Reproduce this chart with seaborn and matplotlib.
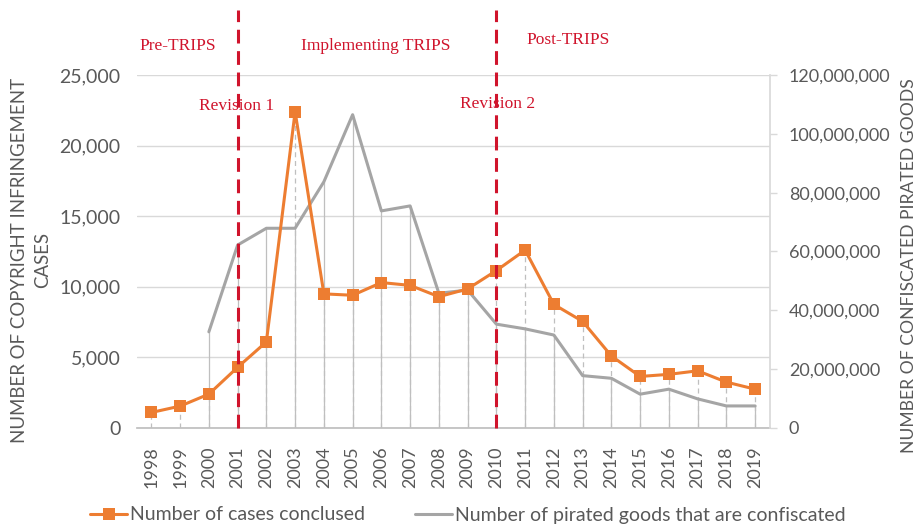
import matplotlib.pyplot as plt
import matplotlib.ticker as mticker
import seaborn as sns
import pandas as pd

# values
years = list(range(1998, 2020))
cases = [1100, 1550, 2400, 4300, 6100, 22400, 9500, 9400, 10300, 10100, 9300,
         9850, 11150, 12600, 8750, 7550, 5100, 3650, 3800, 4050, 3250, 2750]
goods_years = list(range(2000, 2020))
goods = [32.7e6, 62.2e6, 67.9e6, 67.9e6, 83.7e6, 106.5e6, 73.8e6, 75.5e6, 45.8e6, 46.9e6,
         35.3e6, 33.7e6, 31.6e6, 17.8e6, 16.9e6, 11.5e6, 13.2e6, 9.9e6, 7.5e6, 7.5e6]
revisions = [2001, 2010]
phases = ["Pre-TRIPS", "Implementing TRIPS", "Post-TRIPS"]

df_cases = pd.DataFrame({"year": years, "cases": cases})
df_goods = pd.DataFrame({"year": goods_years, "goods": goods})

ORANGE = "#ED7D31"
GREY = "#A5A5A5"
RED = "#D0142C"
TXT = "#595959"

sns.set_theme(style="white")
plt.rcParams["font.family"] = ["Lato", "DejaVu Sans"]

fig = plt.figure(figsize=(9.24, 5.26), dpi=100)
ax = fig.add_axes([137 / 924, 1 - 428 / 526, (769.5 - 137) / 924, (428 - 75) / 526])
ax2 = ax.twinx()
ax3 = ax.twinx()

# drop lines
ax.vlines(df_cases["year"], 0, df_cases["cases"], colors="#BFBFBF", linestyles=(0, (4, 3)), lw=0.9, zorder=1)
ax2.vlines(df_goods["year"], 0, df_goods["goods"], colors="#BFBFBF", lw=0.9, zorder=1)

sns.lineplot(data=df_goods, x="year", y="goods", ax=ax2, color=GREY, lw=2.2, zorder=3)
sns.lineplot(data=df_cases, x="year", y="cases", ax=ax3, color=ORANGE, lw=2.2, marker="s",
             markersize=8.5, markeredgewidth=0, zorder=4)

ax.set_xlim(1997.5, 2019.5)
ax.set_ylim(0, 25000)
ax3.set_ylim(0, 25000)
ax2.set_ylim(0, 120e6)

ax.set_yticks(range(0, 25001, 5000))
ax.yaxis.set_major_formatter(mticker.FuncFormatter(lambda v, p: f"{int(v):,}"))
ax2.set_yticks(range(0, 120000001, 20000000))
ax2.yaxis.set_major_formatter(mticker.FuncFormatter(lambda v, p: f"{int(v):,}"))
ax.set_xticks(years)
ax.set_xticklabels([str(y) for y in years], rotation=90)

ax.grid(axis="y", color="#D9D9D9", lw=1)
ax.tick_params(axis="y", length=0, pad=12, labelsize=14, labelcolor=TXT)
ax.tick_params(axis="x", length=0, pad=13, labelsize=13, labelcolor=TXT)
ax2.tick_params(axis="y", length=5, width=1, color="#D9D9D9", pad=9, labelsize=13, labelcolor=TXT)
ax3.set_yticks([])
for a in (ax, ax2, ax3):
    a.set_xlabel("")
    a.set_ylabel("")
    for s in a.spines.values():
        s.set_visible(False)
ax.spines["bottom"].set_visible(True)
ax.spines["bottom"].set_color("#BFBFBF")
ax2.spines["right"].set_visible(True)
ax2.spines["right"].set_color("#D9D9D9")

fig.text(31 / 924, 1 - 260 / 526, "NUMBER OF COPYRIGHT INFRINGEMENT\nCASES", fontsize=13.4,
         color=TXT, rotation=90, ha="center", va="center", multialignment="center", linespacing=1.45)
fig.text(909 / 924, 1 - 266 / 526, "NUMBER OF CONFISCATED PIRATED GOODS", fontsize=12.6,
         color=TXT, rotation=90, ha="center", va="center")

# revision markers
for r in revisions:
    ax3.axvline(r, ymin=0, ymax=(428 - 10) / (428 - 75), color=RED, lw=2.2,
                linestyle=(0, (4.5, 2.5)), clip_on=False, zorder=5)

serif = dict(family=["Liberation Serif", "DejaVu Serif"], color=RED, fontsize=12.5,
             ha="center", va="center")
fig.text(178 / 924, 1 - 46 / 526, phases[0], **serif)
fig.text(376 / 924, 1 - 46 / 526, phases[1], **serif)
fig.text(568 / 924, 1 - 40 / 526, phases[2], **serif)
fig.text(237 / 924, 1 - 106 / 526, "Revision 1", **serif)
fig.text(498 / 924, 1 - 104 / 526, "Revision 2", **serif)

h1 = plt.Line2D([], [], color=ORANGE, lw=2.2, marker="s", markersize=8.5, markeredgewidth=0)
h2 = plt.Line2D([], [], color=GREY, lw=2.2)
leg = fig.legend([h1, h2], ["Number of cases conclused", "Number of pirated goods that are confiscated"],
                 loc="center", bbox_to_anchor=(468 / 924, 1 - 515 / 526), ncol=2, frameon=False,
                 fontsize=14, handlelength=1.9, handletextpad=0.15, columnspacing=2.6)
for t in leg.get_texts():
    t.set_color(TXT)

fig.savefig("out.png", dpi=100)
